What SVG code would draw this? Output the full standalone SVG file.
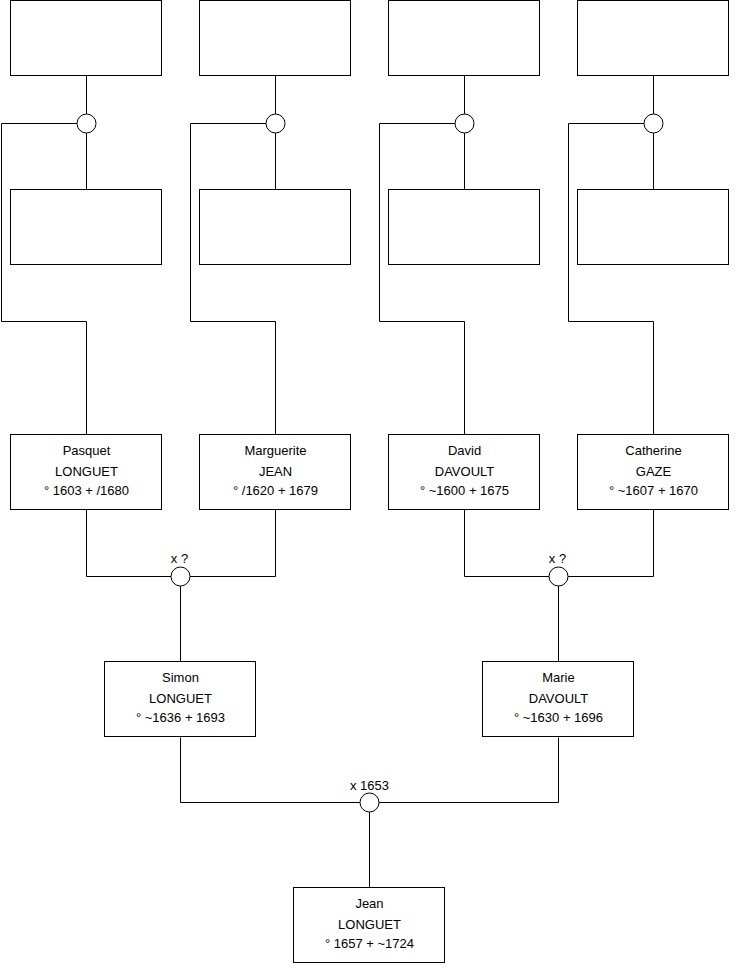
<svg xmlns="http://www.w3.org/2000/svg" width="740" height="975" viewBox="0 0 740 975">
<style>
.box{fill:#fff;stroke:#000;stroke-width:1}
.ring{fill:#fff;stroke:#000;stroke-width:1}
.wire{fill:none;stroke:#000;stroke-width:1}
text{font-family:"Liberation Sans",Arial,sans-serif;font-size:13px;fill:#000;text-anchor:middle}
</style>
<rect width="740" height="975" fill="#fff"/>
<g id="connectors">
<path class="wire" d="M86.5 75.5V114M86.5 133V189.5M77 123.5H1.5V321.5H86.5V434.5"/>
<path class="wire" d="M275.5 75.5V114M275.5 133V189.5M266 123.5H190.5V321.5H275.5V434.5"/>
<path class="wire" d="M464.5 75.5V114M464.5 133V189.5M455 123.5H379.5V321.5H464.5V434.5"/>
<path class="wire" d="M653.5 75.5V114M653.5 133V189.5M644 123.5H568.5V321.5H653.5V434.5"/>
<path class="wire" d="M86.5 509.5V576.5H171M275.5 509.5V576.5H190M180.5 586V661.5"/>
<path class="wire" d="M464.5 509.5V576.5H549M653.5 509.5V576.5H568M558.5 586V661.5"/>
<path class="wire" d="M180.5 737.5V802.5H360M558.5 737.5V802.5H379M369.5 812V887.5"/>
</g>
<g id="u1"><rect class="box" x="10.5" y="0.5" width="151" height="75"/></g>
<g id="u2"><rect class="box" x="199.5" y="0.5" width="151" height="75"/></g>
<g id="u3"><rect class="box" x="388.5" y="0.5" width="151" height="75"/></g>
<g id="u4"><rect class="box" x="577.5" y="0.5" width="151" height="75"/></g>
<g id="m1"><circle class="ring" cx="86.5" cy="123.5" r="9.5"/></g>
<g id="m2"><circle class="ring" cx="275.5" cy="123.5" r="9.5"/></g>
<g id="m3"><circle class="ring" cx="464.5" cy="123.5" r="9.5"/></g>
<g id="m4"><circle class="ring" cx="653.5" cy="123.5" r="9.5"/></g>
<g id="u5"><rect class="box" x="10.5" y="189.5" width="151" height="75"/></g>
<g id="u6"><rect class="box" x="199.5" y="189.5" width="151" height="75"/></g>
<g id="u7"><rect class="box" x="388.5" y="189.5" width="151" height="75"/></g>
<g id="u8"><rect class="box" x="577.5" y="189.5" width="151" height="75"/></g>
<g id="pasquet"><rect class="box" x="10.5" y="434.5" width="151" height="75"/>
<text x="86.5" y="455">Pasquet</text><text x="86.5" y="475.5">LONGUET</text><text x="86.5" y="495">° 1603 + /1680</text></g>
<g id="marguerite"><rect class="box" x="199.5" y="434.5" width="151" height="75"/>
<text x="275.5" y="455">Marguerite</text><text x="275.5" y="475.5">JEAN</text><text x="275.5" y="495">° /1620 + 1679</text></g>
<g id="david"><rect class="box" x="388.5" y="434.5" width="151" height="75"/>
<text x="464.5" y="455">David</text><text x="464.5" y="475.5">DAVOULT</text><text x="464.5" y="495">° ~1600 + 1675</text></g>
<g id="catherine"><rect class="box" x="577.5" y="434.5" width="151" height="75"/>
<text x="653.5" y="455">Catherine</text><text x="653.5" y="475.5">GAZE</text><text x="653.5" y="495">° ~1607 + 1670</text></g>
<g id="mLJ"><circle class="ring" cx="180.5" cy="576.5" r="9.5"/><text x="179.5" y="563">x ?</text></g>
<g id="mDG"><circle class="ring" cx="558.5" cy="576.5" r="9.5"/><text x="557.5" y="563">x ?</text></g>
<g id="simon"><rect class="box" x="104.5" y="661.5" width="151" height="75"/>
<text x="180.5" y="682">Simon</text><text x="180.5" y="702.5">LONGUET</text><text x="180.5" y="722">° ~1636 + 1693</text></g>
<g id="marie"><rect class="box" x="482.5" y="661.5" width="151" height="75"/>
<text x="558.5" y="682">Marie</text><text x="558.5" y="702.5">DAVOULT</text><text x="558.5" y="722">° ~1630 + 1696</text></g>
<g id="mSM"><circle class="ring" cx="369.5" cy="802.5" r="9.5"/><text x="369.5" y="790">x 1653</text></g>
<g id="jean"><rect class="box" x="293.5" y="887.5" width="151" height="75"/>
<text x="369.5" y="908">Jean</text><text x="369.5" y="928.5">LONGUET</text><text x="369.5" y="948">° 1657 + ~1724</text></g>
</svg>
